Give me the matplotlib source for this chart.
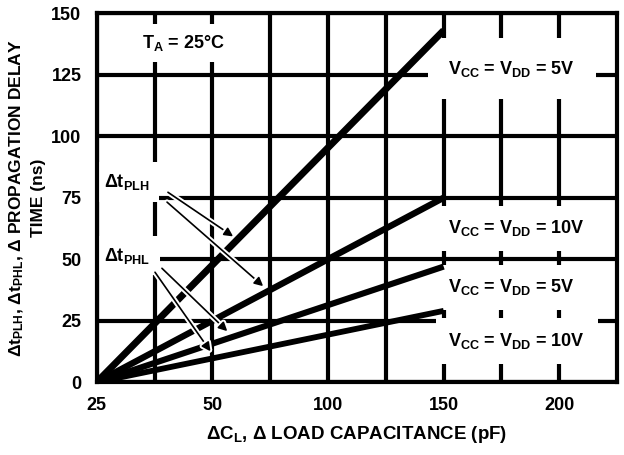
import numpy as np
import matplotlib
matplotlib.use("Agg")
import matplotlib.pyplot as plt
import matplotlib.patheffects as pe

plt.rcParams["font.family"] = ["Liberation Sans", "DejaVu Sans"]
plt.rcParams["font.weight"] = "bold"
plt.rcParams["mathtext.fontset"] = "custom"
plt.rcParams["mathtext.rm"] = "Liberation Sans:bold"
plt.rcParams["mathtext.it"] = "Liberation Sans:bold"
plt.rcParams["mathtext.bf"] = "Liberation Sans:bold"

# data: delay change (ns) vs load-capacitance change (pF), straight lines
cap_start = 25
cap_end = 150
delay_end = [143, 75, 47, 29]          # value at 150 pF
curve_names = ["PLH 5V", "PLH 10V", "PHL 5V", "PHL 10V"]
curve_lw = [5.0, 4.6, 4.4, 4.2]

x_ticks = [25, 50, 100, 150, 200]
x_minor = [37.5, 75, 125, 175]
y_ticks = [0, 25, 50, 75, 100, 125, 150]

# the chart's x axis is piecewise: 25->50 takes two grid cells, then 25 pF per cell
cap_knots = [25, 50, 225]
grid_knots = [0, 2, 9]


def fwd(c):
    return np.interp(c, cap_knots, grid_knots)


def inv(g):
    return np.interp(g, grid_knots, cap_knots)


def on_line(i, c):
    # line is straight in plotted space
    return delay_end[i] * (fwd(c) - fwd(cap_start)) / (fwd(cap_end) - fwd(cap_start))


FS = 13

fig = plt.figure(figsize=(6.24, 4.55), dpi=100)
ax = fig.add_axes([0.155, 0.160, 0.834, 0.811])
ax.set_xscale("function", functions=(fwd, inv))
ax.set_xlim(25, 225)
ax.set_ylim(0, 150)

ax.set_xticks(x_ticks)
ax.set_xticks(x_minor, minor=True)
ax.set_yticks(y_ticks)
ax.tick_params(which="both", length=0, labelsize=FS, pad=11)
for lab in ax.get_xticklabels() + ax.get_yticklabels():
    lab.set_fontweight("bold")
ax.set_axisbelow(True)
ax.grid(True, which="both", color="black", lw=3)
for s in ax.spines.values():
    s.set_linewidth(3)

for i, v in enumerate(delay_end):
    ax.plot([cap_start, cap_end], [0, v], color="black", lw=curve_lw[i],
            solid_capstyle="butt", zorder=3)


def vlabel(v):
    return "V$_{\\mathregular{CC}}$ = V$_{\\mathregular{DD}}$ = " + v


box = dict(boxstyle="square,pad=0.7", fc="white", ec="none")
ax.text(43.7, 138, "T$_{\\rm A}$ = 25°C", ha="center", va="center",
        fontsize=FS, bbox=dict(boxstyle="square,pad=0.5", fc="white", ec="none"), zorder=2)
ax.text(152, 127.5, vlabel("5V"), ha="left", va="center",
        fontsize=FS, bbox=dict(boxstyle="square,pad=1.15", fc="white", ec="none"), zorder=2)
ax.text(152, 62.5, vlabel("10V"), ha="left", va="center",
        fontsize=FS, bbox=box, zorder=2)
ax.text(152, 38.6, vlabel("5V"), ha="left", va="center",
        fontsize=FS, bbox=box, zorder=2)
ax.text(152, 16.7, vlabel("10V"), ha="left", va="center",
        fontsize=FS, bbox=box, zorder=2)

ax.text(26.5, 81.5, "Δt$_{\\rm PLH}$", ha="left", va="center", fontsize=FS,
        bbox=dict(boxstyle="square,pad=0.55", fc="white", ec="none"), zorder=2)
ax.text(26.5, 51.5, "Δt$_{\\rm PHL}$", ha="left", va="center", fontsize=FS,
        bbox=dict(boxstyle="square,pad=0.55", fc="white", ec="none"), zorder=2)

# arrows from the delta labels to their curves
arrow_from = [(40.4, 77.2), (40.2, 73.2), (39.1, 46.3), (37.6, 44.7)]
arrow_to_cap = [59.0, 72.0, 56.5, 49.6]
halo = [pe.Stroke(linewidth=4, foreground="white"), pe.Normal()]
for i, (start, c) in enumerate(zip(arrow_from, arrow_to_cap)):
    ax.annotate("", xy=(c, on_line(i, c) + 3), xytext=start,
                arrowprops=dict(arrowstyle="-|>", color="black", lw=1.2,
                                mutation_scale=13, shrinkA=0, shrinkB=0,
                                path_effects=halo),
                zorder=4)

ax.set_xlabel("ΔC$_{\\rm L}$, Δ LOAD CAPACITANCE (pF)", fontsize=FS + 0.5,
              fontweight="bold", labelpad=7)
ax.set_ylabel("Δt$_{\\rm PLH}$, Δt$_{\\rm PHL}$, Δ PROPAGATION DELAY\nTIME (ns)",
              fontsize=FS - 0.5, fontweight="bold", labelpad=4, linespacing=1.35)

fig.savefig("out.png", dpi=100)
